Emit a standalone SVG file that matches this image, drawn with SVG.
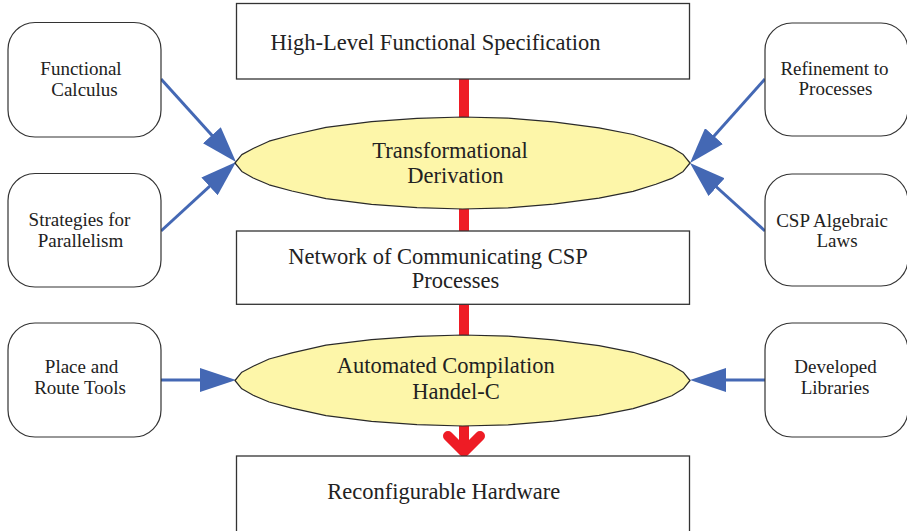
<svg xmlns="http://www.w3.org/2000/svg" width="907" height="531" viewBox="0 0 907 531">
<style>
  .box { fill: #ffffff; stroke: #333333; stroke-width: 1.3; }
  .side { fill: #ffffff; stroke: #333333; stroke-width: 1.2; }
  .blob { fill: #FDF6A9; stroke: #2a2a2a; stroke-width: 1.2; stroke-linejoin: round; }
  .main { font-family: "Liberation Serif", "Times New Roman", serif; font-size: 22.5px; fill: #222222; text-anchor: middle; }
  .small { font-family: "Liberation Serif", "Times New Roman", serif; font-size: 19px; fill: #222222; text-anchor: middle; }
  .blue { stroke: #4468B4; stroke-width: 3; fill: none; marker-end: url(#bluehead); }
  .red { stroke: #EE1C25; stroke-width: 10; fill: none; stroke-linecap: butt; }
</style>
<defs>
  <marker id="bluehead" viewBox="0 0 36 24" markerWidth="36" markerHeight="24" markerUnits="userSpaceOnUse" refX="30" refY="12" orient="auto">
    <path d="M0,0 L36,12 L0,24 Z" fill="#4468B4"/>
  </marker>
</defs>

<g id="connectors">
  <line class="red" x1="464" y1="78" x2="464" y2="450"/>
  <path d="M448,436 L464,452 L480,436" stroke="#EE1C25" stroke-width="10" fill="none" stroke-linecap="round" stroke-linejoin="round"/>
  <line class="blue" x1="161" y1="79" x2="232" y2="157.5"/>
  <line class="blue" x1="161" y1="231" x2="231.6" y2="166.1"/>
  <line class="blue" x1="765" y1="79" x2="694" y2="158.5"/>
  <line class="blue" x1="765" y1="231" x2="694.4" y2="167"/>
  <line class="blue" x1="161" y1="380" x2="230" y2="380"/>
  <line class="blue" x1="765" y1="380" x2="696" y2="380"/>
</g>

<g id="spec">
  <rect class="box" x="236.5" y="3.5" width="453" height="75.5"/>
  <text class="main" x="435.5" y="49.5">High-Level Functional Specification</text>
</g>

<g id="derivation">
  <polygon class="blob" points="235,163 241.8,154.6 253.2,148.5 269.1,141.2 291.9,135 326,127.3 371.5,121.6 417,118.4 462.5,117 508,118.1 553.5,121.9 599,127.8 633.1,134.5 655.9,141.7 671.8,147.6 683.2,154.6 690,163 683.2,171.4 671.8,178.4 655.9,184.3 633.1,191.4 599,198.2 553.5,204.1 508,207.9 462.5,209 417,207.6 371.5,204.4 326,198.6 291.9,191 269.1,184.8 253.2,178 241.8,171.4"/>
  <text class="main" x="450" y="158.3">Transformational</text>
  <text class="main" x="455.3" y="183.3">Derivation</text>
</g>

<g id="network">
  <rect class="box" x="236.5" y="231" width="453" height="73.3"/>
  <text class="main" x="438" y="264.3">Network of Communicating CSP</text>
  <text class="main" x="455.5" y="287.7">Processes</text>
</g>

<g id="compilation">
  <polygon class="blob" points="235,380.5 241.8,372.2 253.2,366.2 269.1,359 291.9,352.8 326,345.2 371.5,339.6 417,336.4 462.5,335 508,336.1 553.5,339.9 599,345.7 633.1,352.3 655.9,359.4 671.8,365.3 683.2,372.2 690,380.5 683.2,388.8 671.8,395.7 655.9,401.6 633.1,408.6 599,415.3 553.5,421.1 508,424.9 462.5,426 417,424.6 371.5,421.4 326,415.7 291.9,408.2 269.1,402 253.2,395.3 241.8,388.8"/>
  <text class="main" x="445.8" y="372.7">Automated Compilation</text>
  <text class="main" x="456" y="399.3">Handel-C</text>
</g>

<g id="hardware">
  <rect class="box" x="236.5" y="456" width="453" height="80"/>
  <text class="main" x="443.8" y="499.3">Reconfigurable Hardware</text>
</g>

<g id="functional-calculus">
  <rect class="side" x="8" y="22.5" width="153" height="114.5" rx="27" ry="27"/>
  <text class="small" x="81" y="75">Functional</text>
  <text class="small" x="84.5" y="95.5">Calculus</text>
</g>

<g id="strategies">
  <rect class="side" x="8" y="173.5" width="153" height="113.5" rx="27" ry="27"/>
  <text class="small" x="79.5" y="226">Strategies for</text>
  <text class="small" x="80.5" y="247.3">Parallelism</text>
</g>

<g id="place-route">
  <rect class="side" x="8" y="323" width="153" height="114" rx="27" ry="27"/>
  <text class="small" x="81.5" y="372.7">Place and</text>
  <text class="small" x="80" y="394">Route Tools</text>
</g>

<g id="refinement">
  <rect class="side" x="765" y="23" width="143" height="113" rx="27" ry="27"/>
  <text class="small" x="834.5" y="75">Refinement to</text>
  <text class="small" x="835.5" y="95.3">Processes</text>
</g>

<g id="csp-laws">
  <rect class="side" x="765" y="174" width="143" height="112" rx="27" ry="27"/>
  <text class="small" x="832" y="227.3">CSP Algebraic</text>
  <text class="small" x="837" y="247.3">Laws</text>
</g>

<g id="libraries">
  <rect class="side" x="765" y="323" width="143" height="114" rx="27" ry="27"/>
  <text class="small" x="835.5" y="372.7">Developed</text>
  <text class="small" x="835" y="394.3">Libraries</text>
</g>
</svg>
